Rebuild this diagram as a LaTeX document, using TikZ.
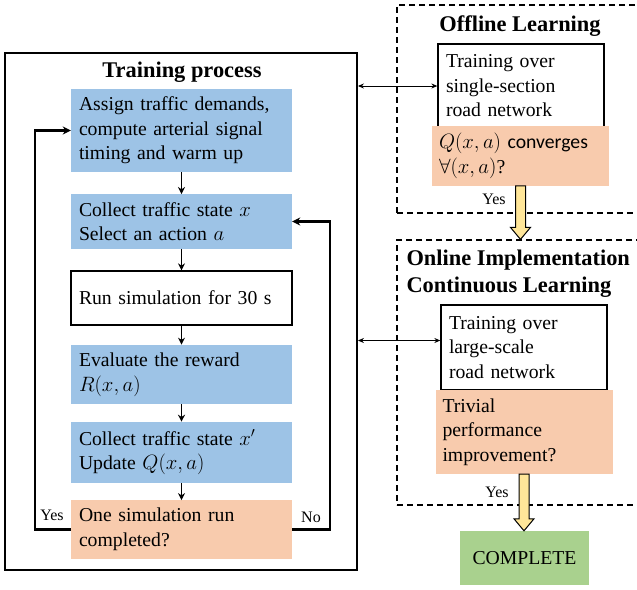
\documentclass[tikz,border=0pt]{standalone}
\usepackage{fontspec}
\setmainfont{Liberation Serif}
\newfontfamily\calibri{Carlito}
\usepackage{xcolor}
\definecolor{stepblue}{RGB}{157,195,230}
\definecolor{steporange}{RGB}{248,203,173}
\definecolor{stepgreen}{RGB}{169,209,142}
\definecolor{stepyellow}{RGB}{255,230,153}
\usetikzlibrary{arrows.meta,positioning,calc}
\tikzset{
  step box/.style={fill=stepblue, minimum width=221pt, text width=205pt, inner sep=8pt, align=left, font=\fontsize{19.7}{24.5}\selectfont},
  step plain/.style={step box, fill=white, draw, line width=1.3pt},
  step check/.style={step box, fill=steporange},
  side box/.style={draw, line width=1.3pt, fill=white, minimum width=166pt, text width=150pt, inner sep=8pt, align=left, font=\fontsize{19.7}{24.5}\selectfont},
  side check/.style={fill=steporange, minimum width=177pt, text width=163pt, inner sep=7pt, align=left, font=\fontsize{19.7}{24.5}\selectfont},
  stage frame/.style={draw, dashed, dash pattern=on 6pt off 4pt, line width=1.2pt, minimum width=245pt},
  group title/.style={font=\bfseries\fontsize{22.4}{27}\selectfont, align=left},
  step edge/.style={-{Stealth[length=7pt,width=7pt]}, line width=1.5pt},
  loop line/.style={-{Stealth[length=8pt,width=8pt]}, line width=2.4pt},
  link edge/.style={{Stealth[length=6pt,width=5pt]}-{Stealth[length=6pt,width=5pt]}, line width=1pt},
  yes arrow/.style={draw, line width=1pt, fill=stepyellow, line join=miter},
  flow label/.style={font=\fontsize{16}{18}\selectfont, inner sep=1pt},
}

\begin{document}
\begin{tikzpicture}[x=1pt, y=-1pt]
  \useasboundingbox (0,0) rectangle (637,589);
  % training process (left)
  \node[draw, line width=1.8pt, minimum width=352pt, minimum height=517pt] (train) at (181,311.5) {};
  \node[group title] (traintitle) at (182,72) {Training process};
  \node[step box, minimum height=83pt] (assign) at (181.5,130.5) {Assign traffic demands,\\compute arterial signal\\timing and warm up};
  \node[step box, minimum height=53pt] (collect) at (181.5,221.5) {Collect traffic state $x$\\Select an action $a$};
  \node[step plain, minimum height=54pt] (run) at (181.5,298) {Run simulation for 30 s};
  \node[step box, minimum height=55pt] (reward) at (181.5,374.5) {Evaluate the reward\\$R(x,a)$};
  \node[step box, minimum height=55pt] (update) at (181.5,452.5) {Collect traffic state $x'$\\Update $Q(x,a)$};
  \node[step check, minimum height=55pt] (done) at (181.5,529.5) {One simulation run\\completed?};
  \draw[step edge] (assign) -- (collect);
  \draw[step edge] (collect) -- (run);
  \draw[step edge] (run) -- (reward);
  \draw[step edge] (reward) -- (update);
  \draw[step edge] (update) -- (done);
  \draw[loop line] (done.west) -- ++(-36,0) |- (assign.west);
  \draw[loop line] (done.east) -- ++(38,0) |- (collect.east);
  \node[flow label] (yesloop) at (52,515) {Yes};
  \node[flow label] (noloop) at (311,517) {No};

  % offline learning
  \node[stage frame, minimum height=208pt] (offline) at (519.5,109) {};
  \node[group title] (offtitle) at (520,26) {Offline Learning};
  \node[side box, minimum height=84pt] (offtrain) at (521,86) {Training over\\single-section\\road network};
  \node[side check, minimum height=54pt] (offcheck) at (520.5,156) {$Q(x,a)$ {\calibri converges}\\$\forall(x,a)$?};

  % online implementation
  \node[stage frame, minimum height=265pt] (online) at (519.5,372.5) {};
  \node[group title, anchor=north west] (ontitle) at (403,246) {Online Implementation\\Continuous Learning};
  \node[side box, minimum height=85pt] (ontrain) at (524,347.5) {Training over\\large-scale\\road network};
  \node[side check, minimum height=84pt, minimum width=176pt] (oncheck) at (524,432) {Trivial\\performance\\improvement?};
  \node[fill=stepgreen, minimum width=129pt, minimum height=54pt, font=\fontsize{19.7}{24.5}\selectfont] (complete) at (524.5,558) {COMPLETE};

  % links to the training process
  \draw[link edge] (train.east |- offtrain.west) -- (offtrain.west);
  \draw[link edge] ($(train.east |- ontrain.west)+(0,-7)$) -- ($(ontrain.west)+(0,-7)$);

  % yes arrows
  \coordinate (tipa) at (offcheck.south |- online.north);
  \coordinate (tipb) at (oncheck.south |- complete.north);
  \draw[yes arrow] ($(offcheck.south)+(-5,0)$) -- ($(tipa)+(-5,-12)$) -- ($(tipa)+(-10,-12)$) -- (tipa) -- ($(tipa)+(10,-12)$) -- ($(tipa)+(5,-12)$) -- ($(offcheck.south)+(5,0)$) -- cycle;
  \draw[yes arrow] ($(oncheck.south)+(-5,0)$) -- ($(tipb)+(-5,-12)$) -- ($(tipb)+(-10,-12)$) -- (tipb) -- ($(tipb)+(10,-12)$) -- ($(tipb)+(5,-12)$) -- ($(oncheck.south)+(5,0)$) -- cycle;
  \node[flow label] (yesoff) at (494,199) {Yes};
  \node[flow label] (yeson) at (497,492) {Yes};
\end{tikzpicture}
\end{document}
